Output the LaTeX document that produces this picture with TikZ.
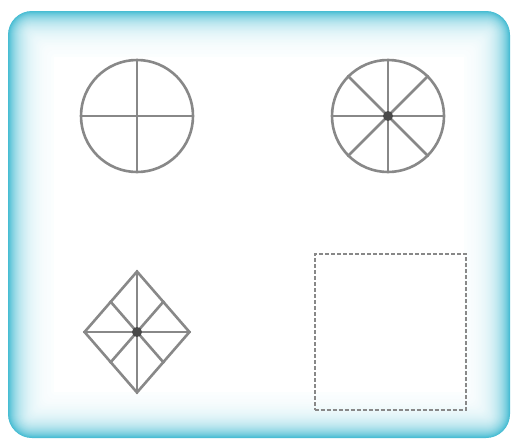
\documentclass[tikz,border=0pt]{standalone}
\usetikzlibrary{shapes.geometric}
\definecolor{glow}{HTML}{45BCD3}
\definecolor{stroke}{HTML}{888888}
\definecolor{hub}{HTML}{4A4A4A}

\begin{document}
\begin{tikzpicture}[x=0.5pt,y=-0.5pt,
  shape line/.style={draw=stroke,line width=1.3pt,inner sep=0pt},
  wheel/.style={shape line,circle,minimum size=56pt},
  kite/.style={shape line,diamond,minimum width=53pt,minimum height=61pt},
  dashbox/.style={draw=stroke,dash pattern=on 2pt off 1pt,line width=1pt,inner sep=0pt,
    minimum width=75.5pt,minimum height=78pt},
  spoke/.style={draw=stroke,line width=1.3pt},
  hubdot/.style={circle,fill=hub,inner sep=0pt,minimum size=5pt}
]
\useasboundingbox (0,0) rectangle (512,439);

% glowing frame
\fill[white] (0,0) rectangle (512,439);
\foreach \k in {0,...,90}{
  \pgfmathtruncatemacro\p{100*exp(-\k/24)}
  \pgfmathsetmacro\r{max(24-0.5*\k,6)}
  \fill[glow!\p!white,rounded corners=\r*0.5pt]
    (8+0.5*\k,11+0.5*\k) rectangle (510-0.5*\k,438-0.5*\k);
}
\fill[white] (54,57) rectangle (464,392);

% figures
\node[wheel] (cross) at (137,116) {};
\node[wheel] (star) at (388,116) {};
\node[kite] (rhomb) at (137,332) {};
\node[dashbox] (square) at (390,332) {};

\draw[spoke] (cross.north) -- (cross.south);
\draw[spoke] (cross.west) -- (cross.east);

\foreach \a in {north,south,east,west,north east,north west,south east,south west}
  \draw[spoke] (star.center) -- (star.\a);
\foreach \a in {north,south,east,west,north east,north west,south east,south west}
  \draw[spoke] (rhomb.center) -- (rhomb.\a);

\node[hubdot] (starhub) at (star.center) {};
\node[hubdot] (rhombhub) at (rhomb.center) {};
\end{tikzpicture}
\end{document}
